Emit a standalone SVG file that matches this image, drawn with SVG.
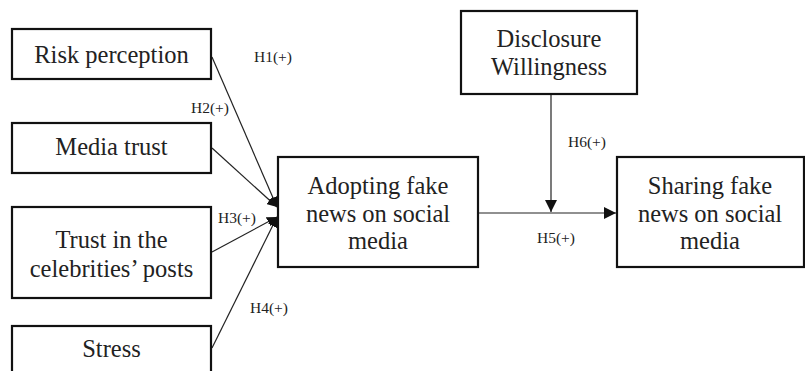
<svg xmlns="http://www.w3.org/2000/svg" width="805" height="371" viewBox="0 0 805 371">
<style>
.box{fill:#fff;stroke:#111;stroke-width:2.2}
.t{font-family:'Liberation Serif','DejaVu Serif',serif;font-size:24.5px;fill:#222;text-anchor:middle}
.h{font-family:'Liberation Serif','DejaVu Serif',serif;font-size:15.5px;fill:#222}
.c{stroke:#222;stroke-width:1.2;fill:none}
</style>
<defs>
<marker id="a" viewBox="0 0 10 10" refX="10" refY="5" markerWidth="10" markerHeight="10" markerUnits="userSpaceOnUse" orient="auto"><path d="M0,0 L10,5 L0,10 z" fill="#111"/></marker>
<marker id="b" viewBox="0 0 10 10" refX="10" refY="5" markerWidth="12" markerHeight="12" markerUnits="userSpaceOnUse" orient="auto"><path d="M0,0 L10,5 L0,10 z" fill="#111"/></marker>
</defs>
<rect width="805" height="371" fill="#fff"/>
<g id="connectors">
<line class="c" x1="212" y1="57" x2="277" y2="207" marker-end="url(#a)"/>
<line class="c" x1="212" y1="148" x2="277" y2="207" marker-end="url(#a)"/>
<line class="c" x1="212" y1="252" x2="277" y2="217" marker-end="url(#a)"/>
<line class="c" x1="212" y1="348" x2="277" y2="217" marker-end="url(#a)"/>
<line class="c" x1="478" y1="213" x2="616" y2="213" marker-end="url(#b)"/>
<line class="c" x1="551" y1="94" x2="551" y2="212" marker-end="url(#b)"/>
</g>
<g id="labels">
<text class="h" x="254" y="62">H1(+)</text>
<text class="h" x="191" y="113">H2(+)</text>
<text class="h" x="218" y="223">H3(+)</text>
<text class="h" x="250" y="313">H4(+)</text>
<text class="h" x="568" y="147">H6(+)</text>
<text class="h" x="537" y="243">H5(+)</text>
</g>
<g id="risk"><rect class="box" x="12" y="29" width="199" height="50"/><text class="t" x="111.5" y="63">Risk perception</text></g>
<g id="media"><rect class="box" x="12" y="123" width="199" height="50"/><text class="t" x="111.5" y="155">Media trust</text></g>
<g id="trust"><rect class="box" x="12" y="207" width="199" height="91"/><text class="t" x="111.5" y="248">Trust in the</text><text class="t" x="111.5" y="277">celebrities’ posts</text></g>
<g id="stress"><rect class="box" x="12" y="326" width="199" height="60"/><text class="t" x="111.5" y="357">Stress</text></g>
<g id="adopting"><rect class="box" x="278" y="157" width="200" height="110"/><text class="t" x="378" y="194">Adopting fake</text><text class="t" x="378" y="222">news on social</text><text class="t" x="378" y="249">media</text></g>
<g id="disclosure"><rect class="box" x="461" y="11" width="176" height="83"/><text class="t" x="549" y="47">Disclosure</text><text class="t" x="549" y="75">Willingness</text></g>
<g id="sharing"><rect class="box" x="617" y="157" width="187" height="110"/><text class="t" x="710" y="194">Sharing fake</text><text class="t" x="710" y="222">news on social</text><text class="t" x="710" y="249">media</text></g>
</svg>
